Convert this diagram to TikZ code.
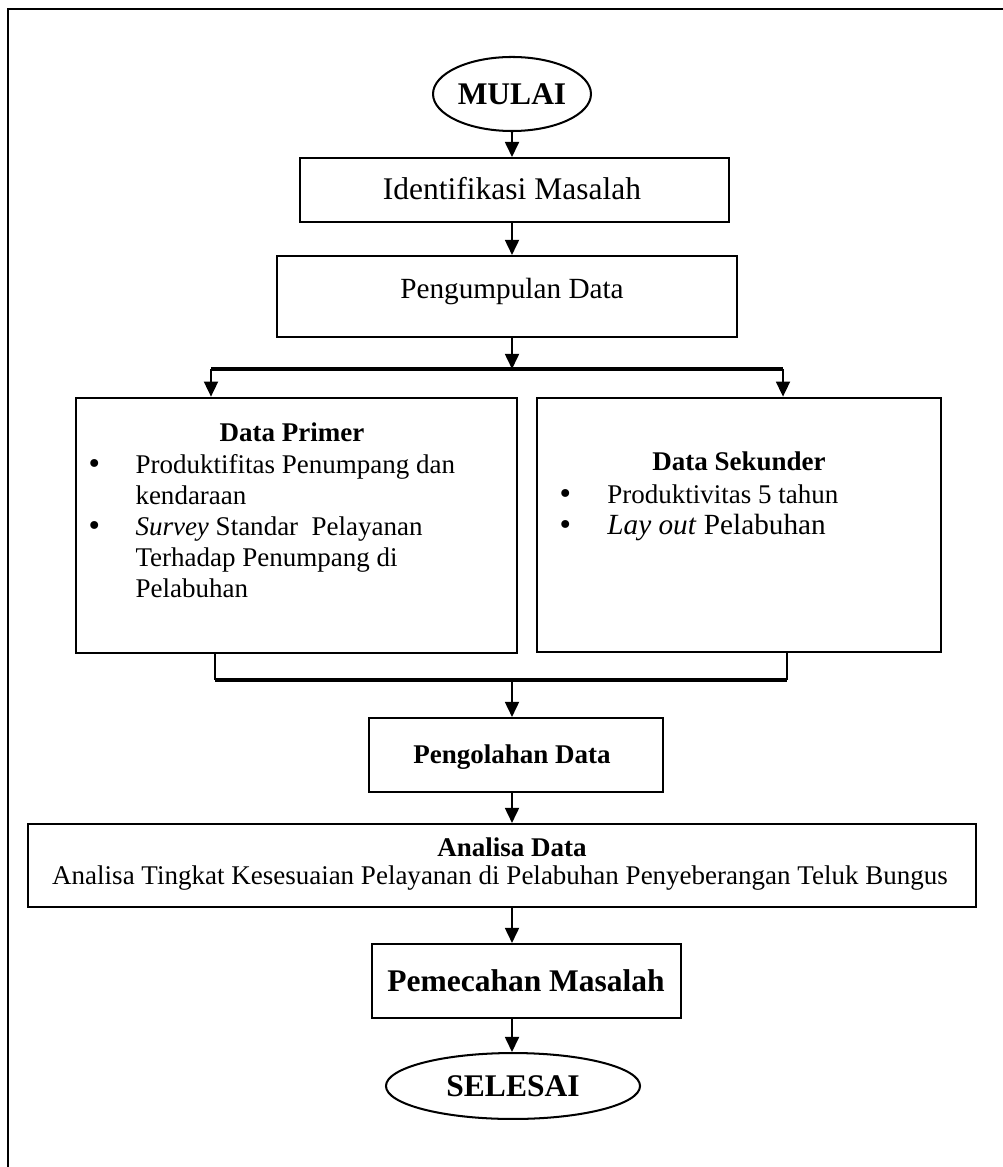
\documentclass[tikz,border=0pt]{standalone}
\usepackage{fontspec}
\setmainfont{Liberation Serif}
\newfontfamily\dvs{DejaVu Sans}
\usetikzlibrary{arrows.meta,shapes.geometric}
\newcommand{\fsz}[2]{\fontsize{#1}{#2}\selectfont}
\newcommand{\bigbul}{{\dvs\fontsize{12}{13.8}\selectfont •}}
\begin{document}
\begin{tikzpicture}[x=0.4444pt,y=-0.4444pt,
  box/.style={draw,line width=0.9pt,inner sep=0pt,rectangle},
  dbox/.style={draw,line width=1.2pt,inner sep=0pt,rectangle},
  oval/.style={draw,line width=0.9pt,ellipse,inner sep=0pt},
  arr/.style={line width=0.9pt,-{Triangle[width=6.2pt,length=6.7pt]}},
  bar/.style={line width=1.8pt},
  sbar/.style={line width=1.3pt},
  txt/.style={inner sep=0pt}]
\useasboundingbox (0,0) rectangle (1003,1167);
\draw[line width=1.3pt] (8,1167) -- (8,9) -- (1003,9);

% start
\node[oval,minimum width=70.2pt,minimum height=32.9pt,font=\bfseries\fsz{14}{16}] (mulai) at (512,94) {MULAI};

% identifikasi
\node[box,minimum width=190.7pt,minimum height=28.4pt] (ident) at (514.5,190) {};
\node[txt,anchor=base,font=\fsz{14}{16}] (identt) at (512,200) {Identifikasi Masalah};

% pengumpulan
\node[box,minimum width=204.4pt,minimum height=36pt] (kumpul) at (507,296.5) {};
\node[txt,anchor=base,font=\fsz{13}{15}] (kumpult) at (512,299) {Pengumpulan Data};

% split bar
\coordinate (barC) at (512,369);
\coordinate (barL) at (211,369);
\coordinate (barR) at (783,369);

% data primer
\node[dbox,minimum width=196pt,minimum height=113.3pt] (prim) at (296.5,525.5) {};
\node[txt,anchor=base,font=\bfseries\fsz{12}{13.8}] (primt) at (292,442) {Data Primer};
\node[txt,anchor=base west,font=\fsz{12}{13.8}] (priml) at (86,473)
 {\begin{tabular}[t]{@{}p{21.8pt}@{}l@{}}
  \bigbul & Produktifitas Penumpang dan\\
   & kendaraan\\
  \bigbul & \textit{Survey} Standar\ \ Pelayanan\\
   & Terhadap Penumpang di\\
   & Pelabuhan
 \end{tabular}};

% data sekunder
\node[dbox,minimum width=179.5pt,minimum height=112.9pt] (sek) at (739,525) {};
\node[txt,anchor=base,font=\bfseries\fsz{12}{13.8}] (sekt) at (739,470) {Data Sekunder};
\node[txt,anchor=base west,font=\fsz{12}{14.2}] (sekl) at (557,503)
 {\begin{tabular}[t]{@{}p{22.2pt}@{}l@{}}
  \bigbul & Produktivitas 5 tahun\\
  \bigbul & {\fsz{13}{15}\textit{Lay out} Pelabuhan}
 \end{tabular}};

% merge bar
\coordinate (mL) at (215,680);
\coordinate (mR) at (787,680);
\coordinate (mC) at (512,680);

% pengolahan
\node[box,minimum width=130.7pt,minimum height=32.9pt] (olah) at (516,755) {};
\node[txt,anchor=base,font=\bfseries\fsz{12}{13.8}] (olaht) at (512,763) {Pengolahan Data};

% analisa
\node[box,minimum width=421.3pt,minimum height=36.9pt] (anal) at (502,865.5) {};
\node[txt,anchor=base,font=\bfseries\fsz{12}{13.8}] (analt) at (512,856) {Analisa Data};
\node[txt,anchor=base,font=\fsz{12}{13.8}] (anall) at (500,884) {Analisa Tingkat Kesesuaian Pelayanan di Pelabuhan Penyeberangan Teluk Bungus};

% pemecahan
\node[box,minimum width=137.3pt,minimum height=32.9pt] (pecah) at (526.5,981) {};
\node[txt,anchor=base,font=\bfseries\fsz{14}{16}] (pecaht) at (526,991) {Pemecahan Masalah};

% end
\node[oval,minimum width=112.9pt,minimum height=29.3pt,font=\bfseries\fsz{14}{16}] (selesai) at (513,1086) {SELESAI};

% connectors
\draw[arr] (mulai.south) -- (mulai.south |- ident.north);
\draw[arr] (ident.south -| mulai.south) -- (kumpul.north -| mulai.south);
\draw[arr] (kumpul.south -| barC) -- (barC);
\draw[bar] (barL) -- (barR);
\draw[arr] (barL) -- (barL |- prim.north);
\draw[arr] (barR) -- (barR |- sek.north);
\draw[sbar] (prim.south -| mL) -- (mL);
\draw[sbar] (sek.south -| mR) -- (mR);
\draw[bar] (mL) -- (mR);
\draw[arr] (mC) -- (mC |- olah.north);
\draw[arr] (olah.south -| mC) -- (anal.north -| mC);
\draw[arr] (anal.south -| mC) -- (pecah.north -| mC);
\draw[arr] (pecah.south -| mC) -- (selesai.north -| mC);
\end{tikzpicture}
\end{document}
